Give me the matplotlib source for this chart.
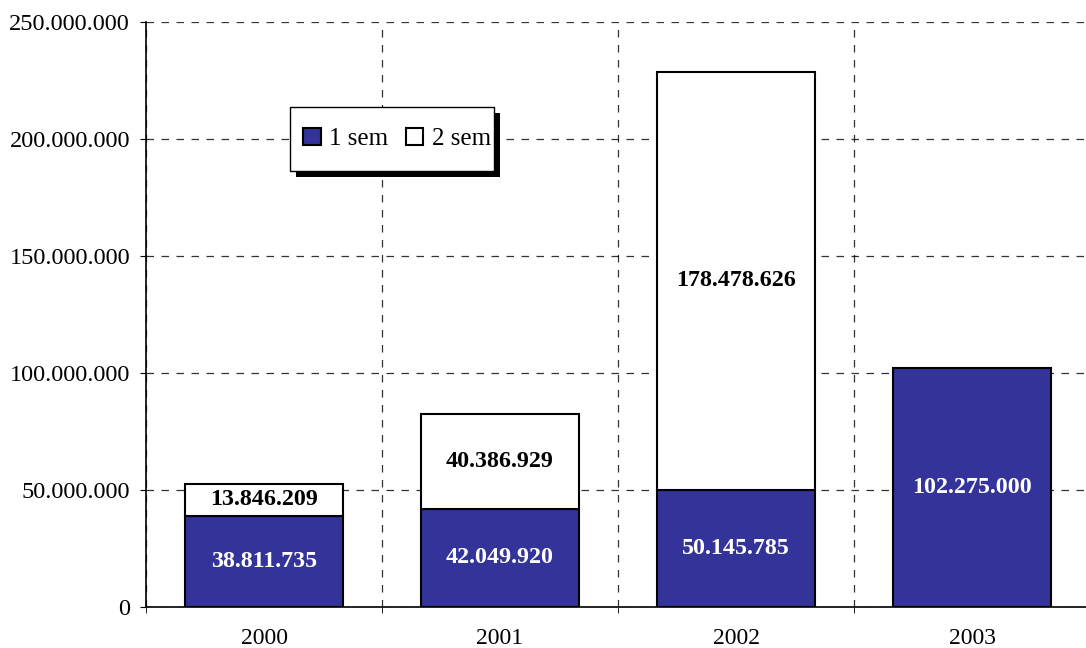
import matplotlib
matplotlib.use("Agg")
import matplotlib.pyplot as plt
from matplotlib.ticker import FuncFormatter, MultipleLocator, FixedLocator
from matplotlib.patches import Rectangle

years = ["2000", "2001", "2002", "2003"]
sem1 = [38811735, 42049920, 50145785, 102275000]
sem2 = [13846209, 40386929, 178478626, 0]
series_names = ["1 sem", "2 sem"]

plt.rcParams["font.family"] = ["Liberation Serif", "DejaVu Serif"]

fig = plt.figure(figsize=(10.86, 6.48), dpi=100)
ax = fig.add_axes([146/1086, 1 - 607/648, 944/1086, 585/648])

x = list(range(len(years)))
w = 0.67
blue = "#333399"
b1 = ax.bar(x, sem1, width=w, color=blue, edgecolor="black", linewidth=1.5, label=series_names[0], zorder=3)
b2 = ax.bar(x, sem2, width=w, bottom=sem1, color="white", edgecolor="black", linewidth=1.5, label=series_names[1], zorder=3)
for i, v in enumerate(sem2):
    if v == 0:
        b2[i].set_visible(False)

fmt = lambda v: f"{int(v):,}".replace(",", ".")
for i in x:
    ax.text(i, sem1[i] / 2, fmt(sem1[i]), ha="center", va="center", color="white",
            fontsize=17.3, fontweight="bold", zorder=4)
    if sem2[i] > 0:
        ax.text(i, sem1[i] + sem2[i] / 2, fmt(sem2[i]), ha="center", va="center", color="black",
                fontsize=17.3, fontweight="bold", zorder=4)

ax.set_xlim(-0.5, 3.5)
ax.set_ylim(0, 250000000)
ax.yaxis.set_major_locator(MultipleLocator(50000000))
ax.yaxis.set_major_formatter(FuncFormatter(lambda v, p: fmt(v)))
ax.set_xticks(x)
ax.set_xticklabels(years)
ax.xaxis.set_minor_locator(FixedLocator([-0.5, 0.5, 1.5, 2.5, 3.5]))
ax.tick_params(axis="x", which="major", length=0, pad=15, labelsize=17)
ax.tick_params(axis="x", which="minor", length=4.5, color="black")
ax.tick_params(axis="y", which="major", length=4.5, labelsize=17.5, pad=7)

ax.set_axisbelow(True)
ax.grid(axis="y", which="major", color="black", linestyle=(0, (6, 6)), linewidth=0.9, alpha=0.8)
ax.grid(axis="x", which="minor", color="black", linestyle=(0, (6, 6)), linewidth=0.9, alpha=0.8)
for s in ["top", "right"]:
    ax.spines[s].set_visible(False)
ax.spines["left"].set_linewidth(1.2)
ax.spines["bottom"].set_linewidth(1.2)

# legend content without frame; frame + shadow drawn around it
leg = ax.legend(loc="center left", bbox_to_anchor=((303 - 146) / 944, 1 - (139 - 22) / 585),
                borderaxespad=0, ncol=2, frameon=False,
                fontsize=18, handlelength=0.7, handleheight=0.7, handletextpad=0.35,
                columnspacing=0.7, borderpad=0)
leg.set_zorder(7)

fig.canvas.draw()
bb = leg.get_window_extent()
cy = (bb.y0 + bb.y1) / 2
fx0, fx1 = bb.x0 - 13, bb.x1 + 3
fy0, fy1 = cy - 32, cy + 32
shadow = Rectangle((fx0 + 6, fy0 - 6), fx1 - fx0, fy1 - fy0, transform=None,
                   facecolor="black", edgecolor="none", zorder=5)
frame = Rectangle((fx0, fy0), fx1 - fx0, fy1 - fy0, transform=None,
                  facecolor="white", edgecolor="black", linewidth=1.0, zorder=6)
ax.add_artist(shadow)
ax.add_artist(frame)

fig.savefig("out.png", dpi=100)
